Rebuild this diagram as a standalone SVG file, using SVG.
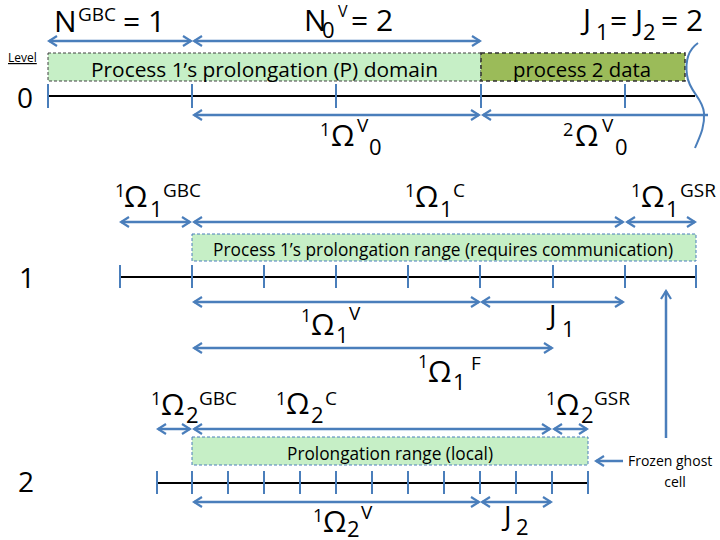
<svg xmlns="http://www.w3.org/2000/svg" width="720" height="540" viewBox="0 0 720 540">
<style>
text{font-family:"Open Sans","Liberation Sans",sans-serif;fill:#000}
.axis{stroke:#000;stroke-width:2;fill:none}
.tick{stroke:#4A7EBB;stroke-width:2;fill:none}
.arr{stroke:#4A7EBB;stroke-width:2.5;fill:none}
.dbl{marker-start:url(#ah);marker-end:url(#ah)}
.end{marker-end:url(#ah)}
.st{marker-start:url(#ah)}
.g0{fill:#C6EFC6;stroke:#404040;stroke-width:1;stroke-dasharray:3 2}
.p2{fill:#9BBB59;stroke:#303030;stroke-width:1.5;stroke-dasharray:4 3}
.gb{fill:#C6EFC6;stroke:#4A7EBB;stroke-width:1;stroke-dasharray:3 2}
.big{font-size:30px}
.om{font-size:30px}
.pre{font-size:18px}
.sub{font-size:22px}
.sup{font-size:19px}
.lvl{font-size:28px}
.box{font-size:20px}
</style>
<defs>
<marker id="ah" viewBox="-10 -6 12 12" refX="0" refY="0" markerWidth="12" markerHeight="12" markerUnits="userSpaceOnUse" orient="auto-start-reverse">
<path d="M-8,-5 L0,0 L-8,5" fill="none" stroke="#4A7EBB" stroke-width="2.2"/>
</marker>
</defs>
<rect width="720" height="540" fill="#fff"/>

<g id="level0">
<rect class="g0" x="48" y="53" width="433" height="28"/>
<rect class="p2" x="481" y="53" width="204" height="28"/>
<text x="91" y="77" class="box" textLength="347" lengthAdjust="spacingAndGlyphs">Process 1’s prolongation (P) domain</text>
<text x="513" y="77" class="box" textLength="138" lengthAdjust="spacingAndGlyphs">process 2 data</text>
<line class="axis" x1="48" y1="96" x2="695" y2="96"/>
<path class="tick" d="M48,84V108M192,84V108M336,84V108M481,84V108M625,84V108"/>
<path d="M698,43 C688,50 685,60 687,75 C689,92 703,98 704,113 C705,128 699,138 695,148" fill="none" stroke="#4A7EBB" stroke-width="2"/>
<text x="8" y="62" font-size="12" text-decoration="underline">Level</text>
<text x="17" y="108" class="lvl">0</text>
</g>

<g id="level1">
<rect class="gb" x="192" y="234" width="504" height="27"/>
<text x="213" y="256" font-size="19" textLength="460" lengthAdjust="spacingAndGlyphs">Process 1’s prolongation range (requires communication)</text>
<line class="axis" x1="120" y1="277" x2="696" y2="277"/>
<path class="tick" d="M120,265V288M192,265V288M264,265V288M336,265V288M408,265V288M480,265V288M553,265V288M625,265V288M696,265V288"/>
<text x="19" y="288" class="lvl">1</text>
</g>

<g id="level2">
<rect class="gb" x="192" y="437" width="396" height="28"/>
<text x="287" y="460" font-size="18" textLength="206" lengthAdjust="spacingAndGlyphs">Prolongation range (local)</text>
<line class="axis" x1="157" y1="483" x2="588" y2="483"/>
<path class="tick" d="M157,471V494M192,471V494M228,471V494M264,471V494M300,471V494M336,471V494M372,471V494M408,471V494M444,471V494M480,471V494M516,471V494M552,471V494M588,471V494"/>
<text x="18" y="492" class="lvl">2</text>
</g>

<g id="labels">
<text class="big" x="54" y="32">N<tspan class="sup" x="78" y="21">GBC</tspan><tspan x="123" y="32">= 1</tspan></text>
<text class="big" x="304" y="31">N<tspan class="sub" x="322" y="38">0</tspan><tspan font-size="16" x="338" y="17">V</tspan><tspan x="351" y="31">= 2</tspan></text>
<text class="big" x="583" y="30">J<tspan class="sub" x="596" y="40">1</tspan><tspan x="610" y="31">= J</tspan><tspan class="sub" x="643" y="40">2</tspan><tspan x="661" y="31">= 2</tspan></text>

<text class="om"><tspan class="pre" x="320" y="136">1</tspan><tspan x="331" y="146">Ω</tspan><tspan class="sup" x="357" y="132">V</tspan><tspan class="sub" x="369" y="155">0</tspan></text>
<text class="om"><tspan class="pre" x="563" y="136">2</tspan><tspan x="575" y="146">Ω</tspan><tspan class="sup" x="602" y="132">V</tspan><tspan class="sub" x="615" y="155">0</tspan></text>

<text class="om"><tspan class="pre" x="115" y="197">1</tspan><tspan x="124" y="207">Ω</tspan><tspan class="sub" x="150" y="217">1</tspan><tspan class="sup" x="163" y="197">GBC</tspan></text>
<text class="om"><tspan class="pre" x="405" y="197">1</tspan><tspan x="415" y="207">Ω</tspan><tspan class="sub" x="440" y="217">1</tspan><tspan class="sup" x="453" y="197">C</tspan></text>
<text class="om"><tspan class="pre" x="631" y="197">1</tspan><tspan x="641" y="207">Ω</tspan><tspan class="sub" x="666" y="217">1</tspan><tspan class="sup" x="680" y="197">GSR</tspan></text>
<text class="om"><tspan class="pre" x="301" y="322">1</tspan><tspan x="311" y="335">Ω</tspan><tspan class="sub" x="336" y="343">1</tspan><tspan class="sup" x="349" y="320">V</tspan></text>
<text font-size="28" x="549" y="325">J<tspan class="sub" x="562" y="337">1</tspan></text>
<text class="om"><tspan class="pre" x="418" y="368">1</tspan><tspan x="428" y="382">Ω</tspan><tspan class="sub" x="453" y="390">1</tspan><tspan class="sup" x="471" y="370">F</tspan></text>

<text class="om"><tspan class="pre" x="151" y="405">1</tspan><tspan x="161" y="415">Ω</tspan><tspan class="sub" x="186" y="423">2</tspan><tspan class="sup" x="199" y="405">GBC</tspan></text>
<text class="om"><tspan class="pre" x="276" y="405">1</tspan><tspan x="286" y="414">Ω</tspan><tspan class="sub" x="311" y="423">2</tspan><tspan class="sup" x="325" y="405">C</tspan></text>
<text class="om"><tspan class="pre" x="546" y="405">1</tspan><tspan x="556" y="415">Ω</tspan><tspan class="sub" x="581" y="423">2</tspan><tspan class="sup" x="594" y="405">GSR</tspan></text>
<text class="om"><tspan class="pre" x="313" y="522">1</tspan><tspan x="323" y="532">Ω</tspan><tspan class="sub" x="347" y="537">2</tspan><tspan class="sup" x="361" y="519">V</tspan></text>
<text font-size="28" x="504" y="526">J<tspan class="sub" x="516" y="535">2</tspan></text>

<text font-size="14" x="628" y="466">Frozen ghost</text>
<text font-size="14" x="675" y="487" text-anchor="middle">cell</text>
</g>

<g id="connectors">
<line class="arr dbl" x1="49" y1="41" x2="191" y2="41"/>
<line class="arr dbl" x1="194" y1="41" x2="480" y2="41"/>
<line class="arr dbl" x1="194" y1="115" x2="479" y2="115"/>
<line class="arr st" x1="483" y1="115" x2="708" y2="115"/>

<line class="arr dbl" x1="121" y1="222" x2="190" y2="222"/>
<line class="arr dbl" x1="194" y1="222" x2="623" y2="222"/>
<line class="arr dbl" x1="627" y1="222" x2="695" y2="222"/>
<line class="arr dbl" x1="194" y1="302" x2="479" y2="302"/>
<line class="arr dbl" x1="482" y1="302" x2="623" y2="302"/>
<line class="arr dbl" x1="194" y1="348" x2="552" y2="348"/>
<line class="arr end" x1="666" y1="438" x2="666" y2="291"/>

<line class="arr dbl" x1="158" y1="429" x2="190" y2="429"/>
<line class="arr dbl" x1="194" y1="429" x2="550" y2="429"/>
<line class="arr dbl" x1="554" y1="429" x2="587" y2="429"/>
<line class="arr dbl" x1="194" y1="502" x2="479" y2="502"/>
<line class="arr dbl" x1="482" y1="502" x2="551" y2="502"/>
<line class="arr end" x1="623" y1="461" x2="596" y2="461"/>
</g>
</svg>
